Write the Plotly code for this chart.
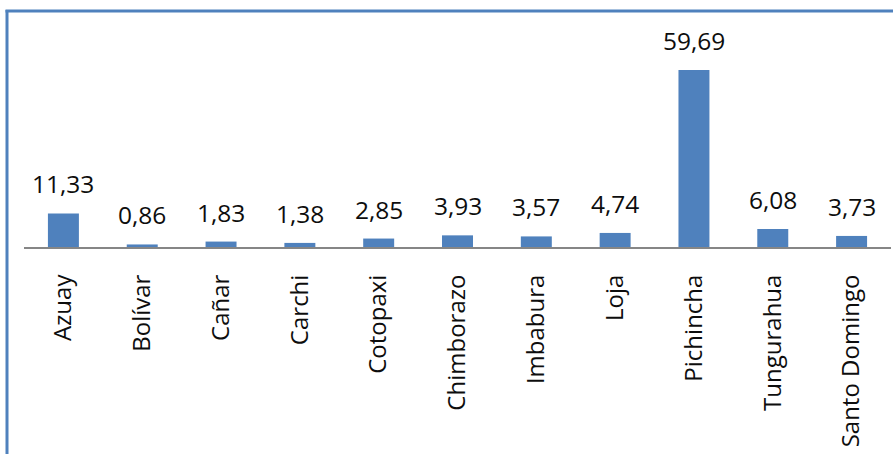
import plotly.graph_objects as go

categories = ["Azuay", "Bolívar", "Cañar", "Carchi", "Cotopaxi", "Chimborazo",
              "Imbabura", "Loja", "Pichincha", "Tungurahua", "Santo Domingo"]
values = [11.33, 0.86, 1.83, 1.38, 2.85, 3.93, 3.57, 4.74, 59.69, 6.08, 3.73]
value_labels = ["11,33", "0,86", "1,83", "1,38", "2,85", "3,93", "3,57", "4,74",
                "59,69", "6,08", "3,73"]

FONT = "Open Sans"
BAR = "#4F81BD"
TXT = "#0d0d0d"

W, H = 893, 454
ML, MR, MT, MB = 24, 2, 20, 207
PW, PH = W - ML - MR, H - MT - MB

fig = go.Figure()
fig.add_trace(go.Bar(x=categories, y=values, marker=dict(color=BAR, line=dict(width=0)),
                     hoverinfo="skip"))

for c, v, t in zip(categories, values, value_labels):
    fig.add_annotation(x=c, y=v, text=t, showarrow=False, yanchor="bottom",
                       yshift=11, font=dict(family=FONT, size=24.5, color=TXT))

def px_x(p):
    return (p - ML) / PW

def px_y(p):
    return 1 - (p - MT) / PH

frame = dict(color=BAR, width=3)
fig.add_shape(type="line", xref="paper", yref="paper",
              x0=px_x(7), x1=px_x(7), y0=px_y(10), y1=px_y(460), line=frame)
fig.add_shape(type="line", xref="paper", yref="paper",
              x0=px_x(5.5), x1=px_x(900), y0=px_y(11), y1=px_y(11), line=frame)

fig.update_layout(
    width=W, height=H,
    margin=dict(l=ML, r=MR, t=MT, b=MB, pad=0, autoexpand=False),
    paper_bgcolor="white", plot_bgcolor="white",
    bargap=0.607,
    showlegend=False,
    xaxis=dict(showline=True, linecolor="#868686", linewidth=2, ticks="",
               tickangle=-90, ticklabelstandoff=16, automargin=False,
               tickfont=dict(family=FONT, size=24, color=TXT),
               showgrid=False, zeroline=False, fixedrange=True),
    yaxis=dict(range=[0, 76.55], visible=False, showgrid=False, zeroline=False,
               fixedrange=True, automargin=False),
)

fig.write_html("out.html", config=dict(displayModeBar=False))
